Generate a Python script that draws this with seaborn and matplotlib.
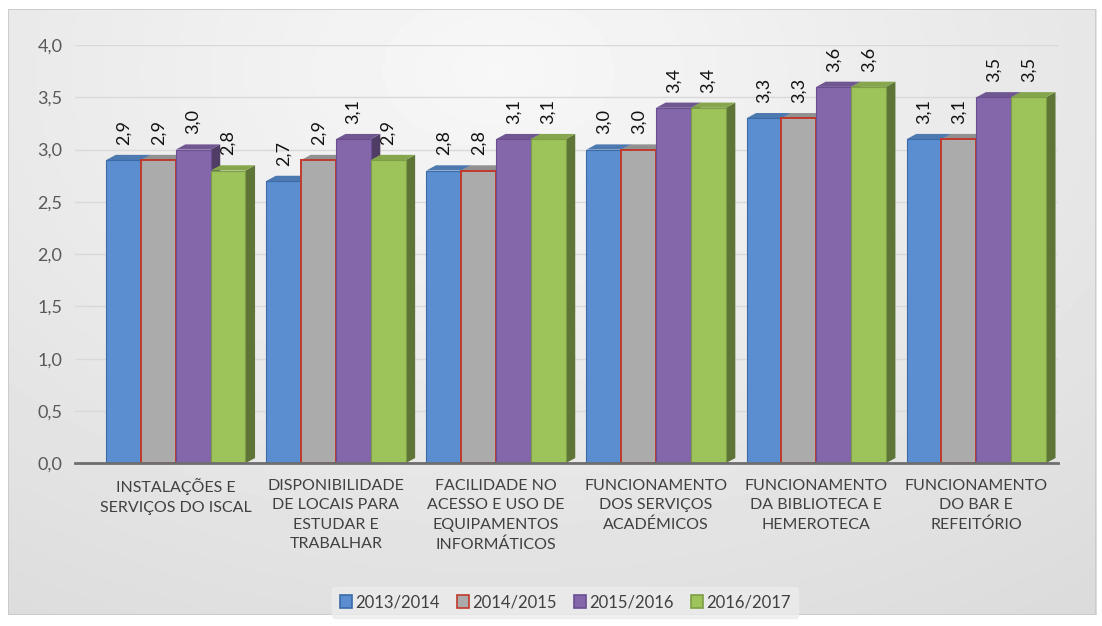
import numpy as np
import pandas as pd
import matplotlib
matplotlib.use("Agg")
import matplotlib.pyplot as plt
from matplotlib.patches import Polygon
from matplotlib.colors import to_rgb
import seaborn as sns

categories = [
    "INSTALAÇÕES E\nSERVIÇOS DO ISCAL",
    "DISPONIBILIDADE\nDE LOCAIS PARA\nESTUDAR E\nTRABALHAR",
    "FACILIDADE NO\nACESSO E USO DE\nEQUIPAMENTOS\nINFORMÁTICOS",
    "FUNCIONAMENTO\nDOS SERVIÇOS\nACADÉMICOS",
    "FUNCIONAMENTO\nDA BIBLIOTECA E\nHEMEROTECA",
    "FUNCIONAMENTO\nDO BAR E\nREFEITÓRIO",
]
years = ["2013/2014", "2014/2015", "2015/2016", "2016/2017"]
v_2013_2014 = [2.9, 2.7, 2.8, 3.0, 3.3, 3.1]
v_2014_2015 = [2.9, 2.9, 2.8, 3.0, 3.3, 3.1]
v_2015_2016 = [3.0, 3.1, 3.1, 3.4, 3.6, 3.5]
v_2016_2017 = [2.8, 2.9, 3.1, 3.4, 3.6, 3.5]
y_ticks = [0.0, 0.5, 1.0, 1.5, 2.0, 2.5, 3.0, 3.5, 4.0]

face_colors = ["#5B8ED0", "#ABABAB", "#8466AA", "#9DC35B"]
edge_colors = ["#3C6AA8", "#C0392B", "#6A4E92", "#7E9E45"]

df = pd.DataFrame({
    "categoria": categories * 4,
    "ano": np.repeat(years, len(categories)),
    "valor": v_2013_2014 + v_2014_2015 + v_2015_2016 + v_2016_2017,
})

sns.set_theme(style="white")
plt.rcParams["font.family"] = ["Lato", "DejaVu Sans"]

fig = plt.figure(figsize=(11.02, 6.26), dpi=100)
fig.patch.set_facecolor("white")

# soft grey gradient backdrop for the chart area
bg = fig.add_axes([0.007, 0.018, 0.988, 0.968])
yy, xx = np.mgrid[0:1:200j, 0:1:300j]
shade = 0.97 - 0.11 * np.sqrt(((xx - 0.45) / 0.9) ** 2 + ((yy - 0.1) / 1.1) ** 2)
bg.imshow(shade, cmap="gray", vmin=0, vmax=1, aspect="auto", extent=[0, 1, 0, 1], origin="upper")
bg.set_axis_off()
bg.add_patch(plt.Rectangle((0, 0), 1, 1, transform=bg.transAxes, fill=False, ec="#c8c8c8", lw=1.2))

ax = fig.add_axes([0.068, 0.26, 0.892, 0.668])
ax.set_facecolor("none")

sns.barplot(data=df, x="categoria", y="valor", hue="ano", hue_order=years,
            palette=face_colors, width=0.87, gap=0.0, ax=ax, legend=False,
            saturation=1, zorder=3)

ax.set_ylim(0, 4.0)
ax.set_xlim(-0.63, 5.51)

# depth offsets for the extruded look (a few pixels right and up)
dx, dy = 0.06, 0.05


def shade_of(c, f):
    r, g, b = to_rgb(c)
    return (r * f, g * f, b * f)


for i, cont in enumerate(ax.containers):
    for bar in cont:
        x0 = bar.get_x()
        x1 = x0 + bar.get_width()
        h = bar.get_height()
        side = Polygon([(x1, 0), (x1 + dx, dy), (x1 + dx, h + dy), (x1, h)],
                       closed=True, fc=shade_of(face_colors[i], 0.6), ec="none", zorder=2)
        top = Polygon([(x0, h), (x0 + dx, h + dy), (x1 + dx, h + dy), (x1, h)],
                      closed=True, fc=shade_of(face_colors[i], 0.85), ec="none", zorder=2)
        ax.add_patch(side)
        ax.add_patch(top)
        bar.set_edgecolor(edge_colors[i])
        bar.set_linewidth(1.4 if i == 1 else 0.8)
    ax.bar_label(cont, labels=[f"{v:.1f}".replace(".", ",") for v in cont.datavalues],
                 rotation=90, padding=11, fontsize=13, color="#111111")

ax.set_yticks(y_ticks)
ax.set_yticklabels([f"{t:.1f}".replace(".", ",") for t in y_ticks], fontsize=13, color="#595959")
ax.tick_params(axis="x", labelsize=11.5, labelcolor="#404040", pad=11, length=0)
ax.tick_params(axis="y", length=0, pad=9)
for lbl in ax.get_xticklabels():
    lbl.set_linespacing(1.5)
ax.set_xlabel("")
ax.set_ylabel("")
ax.yaxis.grid(True, color="#d9d9d9", lw=1)
ax.set_axisbelow(True)
for s in ["top", "right", "left"]:
    ax.spines[s].set_visible(False)
ax.spines["bottom"].set_color("#6e6e6e")
ax.spines["bottom"].set_linewidth(2)
ax.spines["bottom"].set_zorder(4)

handles = [plt.Rectangle((0, 0), 1, 1, fc=face_colors[i], ec=edge_colors[i], lw=1.2) for i in range(4)]
leg = fig.legend(handles, years, loc="center", bbox_to_anchor=(0.513, 0.038), ncol=4,
                 frameon=True, fontsize=12, handlelength=0.75, handleheight=0.75,
                 handletextpad=0.2, columnspacing=1.0, borderpad=0.45)
leg.get_frame().set_facecolor("#ececec")
leg.get_frame().set_edgecolor("#ececec")
for t in leg.get_texts():
    t.set_color("#404040")

fig.savefig("out.png", dpi=100)
